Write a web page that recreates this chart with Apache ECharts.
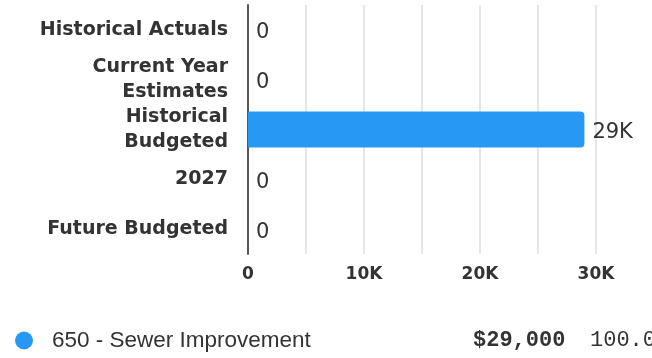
<!DOCTYPE html>
<html>
<head>
<meta charset="utf-8">
<script src="https://cdn.jsdelivr.net/npm/echarts@6/dist/echarts.min.js"></script>
<style>
html,body{margin:0;padding:0;background:#fff;}
#chart{width:652px;height:358px;}
</style>
</head>
<body>
<div id="chart"></div>
<script>
var categories = ['Historical Actuals', 'Current Year Estimates', 'Historical Budgeted', '2027', 'Future Budgeted'];
var values = [0, 0, 29000, 0, 0];
var seriesName = '650 - Sewer Improvement';
var legendTotal = '$29,000';
var legendPercent = '100.0%';

var wrapAt = {'Current Year Estimates': 'Current Year\nEstimates', 'Historical Budgeted': 'Historical\nBudgeted'};

var chart = echarts.init(document.getElementById('chart'), null, {renderer: 'canvas'});
function kfmt(v) { return v === 0 ? '0' : (v / 1000) + 'K'; }
chart.setOption({
  animation: false,
  grid: {left: 248, right: 56, top: 5, bottom: 104, containLabel: false},
  xAxis: {
    type: 'value', min: 0, max: 30000, interval: 5000,
    axisLine: {show: false}, axisTick: {show: false},
    splitLine: {show: true, lineStyle: {color: '#e6e6e6', width: 2}},
    axisLabel: {
      margin: 12, color: '#333', fontFamily: 'DejaVu Sans', fontWeight: 'bold', fontSize: 17,
      formatter: function (v) { return v % 10000 === 0 ? kfmt(v) : ''; }
    }
  },
  yAxis: {
    type: 'category', data: categories, inverse: true,
    axisLine: {show: true, lineStyle: {color: '#555', width: 2}},
    axisTick: {show: false},
    axisLabel: {
      margin: 20, color: '#333', fontFamily: 'DejaVu Sans', fontWeight: 'bold', fontSize: 19,
      lineHeight: 25, align: 'right', padding: [5, 0, 0, 0],
      formatter: function (v) { return wrapAt[v] || v; }
    }
  },
  legend: {
    show: true, left: 10, top: 324, orient: 'horizontal',
    icon: 'circle', itemWidth: 18, itemHeight: 18, itemGap: 0,
    selectedMode: false,
    formatter: function (name) {
      return '{n|' + name + '}{v|' + legendTotal + '}{p|' + legendPercent + '}';
    },
    textStyle: {
      rich: {
        n: {fontFamily: 'Liberation Sans', fontSize: 22.5, color: '#333', width: 421, padding: [0, 0, 0, 14], lineHeight: 22},
        v: {fontFamily: 'Liberation Mono', fontWeight: 'bold', fontSize: 22, color: '#333', width: 117, lineHeight: 22},
        p: {fontFamily: 'Liberation Mono', fontSize: 22, color: '#333', lineHeight: 22}
      }
    }
  },
  series: [{
    name: seriesName, type: 'bar', data: values, barWidth: 36,
    itemStyle: {color: '#2898F5', borderRadius: [0, 4, 4, 0]},
    label: {
      show: true, position: 'right', distance: 8, offset: [0, 3],
      fontFamily: 'DejaVu Sans', fontSize: 21, color: '#333',
      formatter: function (p) { return kfmt(p.value); }
    }
  }]
});
</script>
</body>
</html>
